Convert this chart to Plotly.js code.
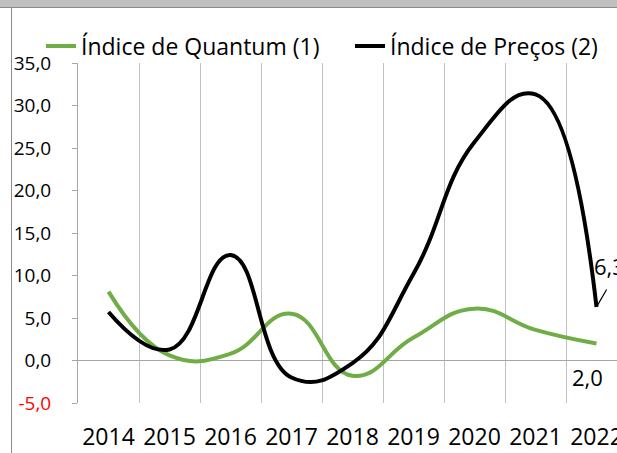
<!DOCTYPE html>
<html>
<head>
<meta charset="utf-8">
<script src="https://cdn.plot.ly/plotly-3.0.1.min.js"></script>
<style>
html,body{margin:0;padding:0;width:617px;height:453px;overflow:hidden;background:#ffffff;position:relative;}
#band{position:absolute;left:0;top:0;width:617px;height:7px;background:#bfbfbf;border-bottom:1px solid #8c8c8c;z-index:0;}
#vline{position:absolute;left:11px;top:8px;width:1px;height:445px;background:#8c8c8c;z-index:0;}
#chart{position:absolute;left:0;top:0;width:640px;height:453px;z-index:2;}
</style>
</head>
<body>
<div id="band"></div>
<div id="vline"></div>
<div id="chart"></div>
<script>
// ---- data ----
const years = ['2014','2015','2016','2017','2018','2019','2020','2021','2022'];
const quantum = [8.1, 0.6, 0.8, 5.5, -1.8, 2.7, 6.1, 3.6, 2.0];
const precos  = [5.7, 1.3, 12.4, -2.0, -0.3, 10.2, 25.7, 31.3, 6.3];
const seriesNames = ['Índice de Quantum (1)', 'Índice de Preços (2)'];
const chartTitle = 'PECUÁRIA';
const yTickVals = [-5, 0, 5, 10, 15, 20, 25, 30, 35];
const yTickText = ['<span style="color:#ff0000">-5,0</span>', '0,0', '5,0', '10,0', '15,0', '20,0', '25,0', '30,0', '35,0'];

const fmt = v => v.toFixed(1).replace('.', ',');
const lastIdx = years.length - 1;
const FONT = 'Open Sans, Noto Sans, sans-serif';

const traces = [
  {x: years, y: quantum, name: seriesNames[0], type: 'scatter', mode: 'lines', legend: 'legend',
   line: {color: '#70ad47', width: 4, shape: 'spline', smoothing: 1.3}, hoverinfo: 'skip'},
  {x: years, y: precos, name: seriesNames[1], type: 'scatter', mode: 'lines', legend: 'legend2',
   line: {color: '#000000', width: 4, shape: 'spline', smoothing: 1.3}, hoverinfo: 'skip'}
];

const legendBase = {orientation: 'h', xanchor: 'left', y: 1.05, yanchor: 'middle',
  font: {family: FONT, size: 23, color: '#000'}, bgcolor: 'rgba(0,0,0,0)', borderwidth: 0};

const layout = {
  width: 640, height: 453,
  margin: {l: 78, r: 13, t: 63, b: 50, pad: 0},
  paper_bgcolor: 'rgba(0,0,0,0)',
  plot_bgcolor: 'rgba(0,0,0,0)',
  separators: ',.',
  showlegend: true,
  legend: Object.assign({}, legendBase, {x: -0.0674}),
  legend2: Object.assign({}, legendBase, {x: 0.4954}),
  xaxis: {type: 'category', tickson: 'boundaries', showgrid: true, gridcolor: '#c0c0c0', gridwidth: 1,
          ticks: '', showline: false, zeroline: false, range: [-0.5, 8.5],
          tickfont: {family: FONT, size: 23, color: '#000'}, ticklabelstandoff: 18, fixedrange: true},
  yaxis: {range: [-5, 35], tickvals: yTickVals, ticktext: yTickText, showgrid: false,
          zeroline: true, zerolinecolor: '#a6a6a6', zerolinewidth: 1,
          showline: true, linecolor: '#a6a6a6', linewidth: 1,
          ticks: 'outside', ticklen: 5, tickcolor: '#a6a6a6', tickwidth: 1,
          tickfont: {family: FONT, size: 19, color: '#000'}, ticklabelstandoff: 17, fixedrange: true},
  annotations: [
    {xref: 'paper', yref: 'paper', x: 0.4536, y: 1.171, xanchor: 'center', yanchor: 'bottom',
     text: '<b>' + chartTitle + '</b>', showarrow: false, font: {family: FONT, size: 23, color: '#000'}},
    {x: lastIdx, y: precos[lastIdx], text: fmt(precos[lastIdx]), showarrow: false,
     xanchor: 'left', yanchor: 'middle', xshift: -5, yshift: 41,
     font: {family: FONT, size: 22, color: '#000'}},
    {x: lastIdx, y: precos[lastIdx], text: '', showarrow: true, arrowhead: 0, arrowwidth: 1.2,
     arrowcolor: '#000', ax: 11, ay: -19, standoff: 1},
    {x: lastIdx, y: quantum[lastIdx], text: fmt(quantum[lastIdx]), showarrow: false,
     xanchor: 'center', yanchor: 'middle', xshift: -9, yshift: -33,
     font: {family: FONT, size: 22, color: '#000'}}
  ]
};

Plotly.newPlot('chart', traces, layout, {staticPlot: true, displayModeBar: false});
</script>
</body>
</html>
